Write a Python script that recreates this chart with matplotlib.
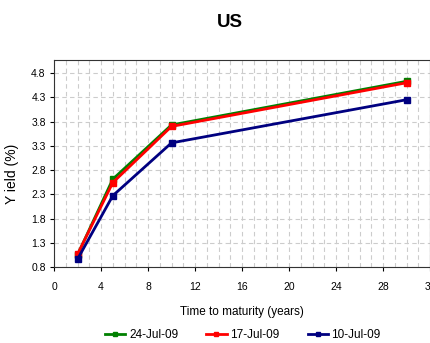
"""US yield curve for three July 2009 dates."""

import matplotlib
matplotlib.use('Agg')
import matplotlib.pyplot as plt
from matplotlib.ticker import MultipleLocator

plt.rcParams['font.family'] = ['Liberation Sans', 'DejaVu Sans']

MATURITIES = [2, 5, 10, 30]
YIELD_24_JUL = [1.05, 2.61, 3.73, 4.63]
YIELD_17_JUL = [1.06, 2.54, 3.70, 4.60]
YIELD_10_JUL = [0.96, 2.27, 3.36, 4.25]
LABELS = ['24-Jul-09', '17-Jul-09', '10-Jul-09']
COLORS = ['#008000', '#ff0000', '#000080']

fig = plt.figure(figsize=(4.30, 3.43), dpi=100)
ax = fig.add_axes([0.1256, 0.2216, 0.8744, 0.6035])

for ys, label, color in zip([YIELD_24_JUL, YIELD_17_JUL, YIELD_10_JUL],
                            LABELS, COLORS):
  ax.plot(MATURITIES, ys, color=color, lw=2.0, marker='s', ms=4,
          label=label, zorder=3)

ax.set_xlim(0, 32)
ax.set_ylim(0.8, 5.07)
ax.xaxis.set_major_locator(MultipleLocator(4))
ax.xaxis.set_minor_locator(MultipleLocator(1))
ax.set_yticks([0.8, 1.3, 1.8, 2.3, 2.8, 3.3, 3.8, 4.3, 4.8])
# dashed grid: every year across, every tick up
ax.grid(which='both', axis='x', color='#cccccc', lw=0.8, ls=(0, (4, 3)))
ax.grid(which='major', axis='y', color='#cccccc', lw=0.8, ls=(0, (4, 3)))
ax.tick_params(which='minor', length=0)
ax.tick_params(which='major', length=3, width=0.8, labelsize=7.5, pad=8)
ax.tick_params(axis='y', pad=3)
for s in ax.spines.values():
  s.set_color('#333333')
  s.set_linewidth(0.8)

ax.set_xlabel('Time to maturity (years)', fontsize=8.5, labelpad=10)
fig.text(0.028, 0.493, 'Y ield (%)', rotation=90, ha='center', va='center',
         fontsize=10)
fig.text(0.535, 0.935, 'US', ha='center', va='center', fontsize=13.5,
         fontweight='bold', stretch='condensed')

fig.legend(loc='center', bbox_to_anchor=(0.565, 0.022), ncol=3, frameon=False,
           fontsize=8.5, handlelength=1.7, columnspacing=2.4, handletextpad=0.3,
           markerscale=0.6)

fig.savefig('out.png', dpi=100)
